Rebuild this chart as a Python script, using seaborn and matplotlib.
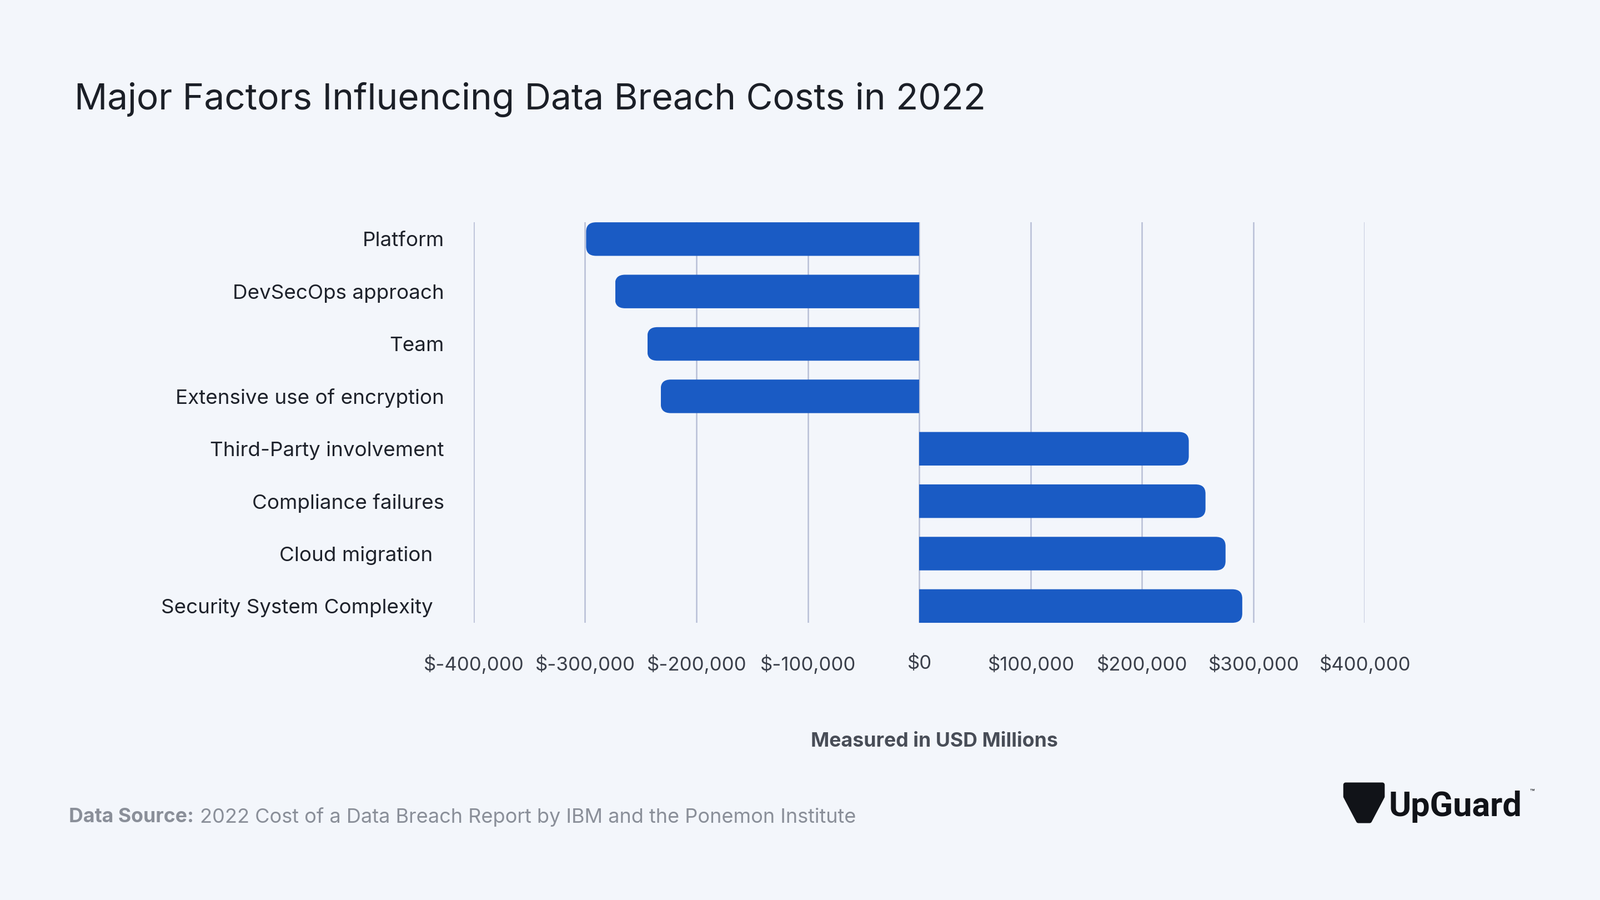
import matplotlib.pyplot as plt
import seaborn as sns
import pandas as pd
from matplotlib.patches import FancyBboxPatch, Polygon, Rectangle

plt.rcParams["font.family"] = "Inter"

# data
factors = ["Platform", "DevSecOps approach", "Team", "Extensive use of encryption",
           "Third-Party involvement", "Compliance failures", "Cloud migration  ",
           "Security System Complexity  "]
impact = [-299000, -273000, -244000, -232000, 242000, 257000, 275000, 290000]
tick_vals = [-400000, -300000, -200000, -100000, 0, 100000, 200000, 300000, 400000]
tick_labels = ["$-400,000", "$-300,000", "$-200,000", "$-100,000", "$0",
               "$100,000", "$200,000", "$300,000", "$400,000"]

bg = "#f3f6fb"
blue = "#1a5bc4"
df = pd.DataFrame({"factor": factors, "impact": impact})

fig = plt.figure(figsize=(28.81, 16.2), dpi=100, facecolor=bg)
ax = fig.add_axes([0.296, 0.308, 0.557, 0.445])
ax.set_facecolor(bg)

bh = 0.64
sns.barplot(data=df, x="impact", y="factor", color=blue, width=bh, ax=ax, zorder=3)

# swap plain bars for bars rounded only at the outer end
r = 9000
for p in list(ax.patches):
    x0, y0, w, h = p.get_x(), p.get_y(), p.get_width(), p.get_height()
    p.remove()
    if w < 0:
        xa, xb = x0 + w, x0 + 4 * r
    else:
        xa, xb = x0 - 4 * r, x0 + w
    rb = FancyBboxPatch((xa, y0), xb - xa, h,
                        boxstyle="round,pad=0,rounding_size=%f" % r,
                        mutation_aspect=h / (2 * r) * 0.55, fc=blue, lw=0, zorder=3)
    ax.add_patch(rb)
    clip = Rectangle((min(x0, x0 + w), y0 - 0.1), abs(w), h + 0.2,
                     transform=ax.transData, visible=False)
    ax.add_patch(clip)
    rb.set_clip_path(clip)

ax.set_xlim(-400000, 400000)
ax.set_ylim(len(factors) - 1 + bh / 2, -bh / 2)
for v in tick_vals:
    ax.axvline(v, color="#b8bfd6", lw=1.8, zorder=1)
ax.set_xticks(tick_vals)
ax.set_xticklabels(tick_labels, fontsize=25, color="#3a3f4a")
ax.tick_params(axis="x", length=0, pad=42)
ax.tick_params(axis="y", length=0, pad=38, labelsize=26.5, labelcolor="#1e222b")
for s in ax.spines.values():
    s.set_visible(False)
ax.set_ylabel("")
ax.set_xlabel("")

fig.text(0.584, 0.176, "Measured in USD Millions", fontsize=25.7, fontweight="bold",
         color="#484d57", ha="center", va="center")
fig.text(0.0466, 0.889, "Major Factors Influencing Data Breach Costs in 2022",
         fontsize=47.3, color="#1b1f27", va="center")
fig.text(0.043, 0.092, "Data Source:", fontsize=25.7, fontweight="bold",
         color="#8a8f99", va="center")
fig.text(0.125, 0.092, "2022 Cost of a Data Breach Report by IBM and the Ponemon Institute",
         fontsize=26, color="#8a8f99", va="center")

# logo
fig.text(0.868, 0.104, "UpGuard", fontsize=44, fontweight="bold", color="#111318",
         va="center", fontfamily="Roboto")
fig.text(0.956, 0.12, "™", fontsize=10, color="#111318", va="center")
fig.patches.append(Polygon([[0.841, 0.128], [0.864, 0.128], [0.864, 0.115],
                            [0.856, 0.088], [0.849, 0.088], [0.841, 0.115]],
                           closed=True, transform=fig.transFigure, fc="#111318",
                           joinstyle="round", lw=6, ec="#111318"))

fig.savefig("out.png", facecolor=bg)
